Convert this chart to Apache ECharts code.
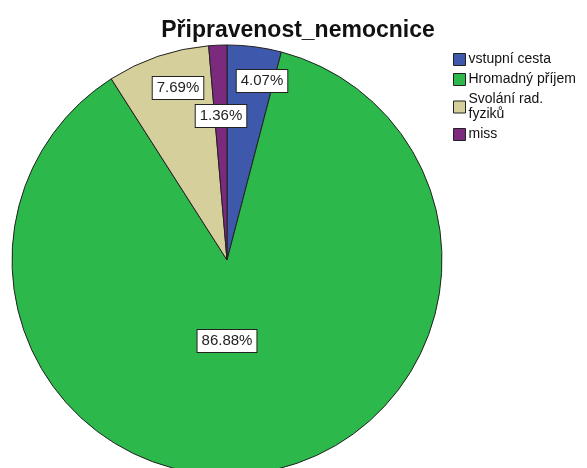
<!DOCTYPE html>
<html lang="cs">
<head>
    <meta charset="utf-8"/>
    <script src="https://cdn.jsdelivr.net/npm/echarts@6/dist/echarts.min.js"></script>
    <style>
        html, body { margin: 0; padding: 0; background: #fff; }
        #main { width: 587px; height: 468px; }
    </style>
</head>
<body>
<div id="main"></div>
<script>
    // data
    var categories = ['vstupní cesta', 'Hromadný příjem', 'Svolání rad. fyziků', 'miss'];
    var percents = [4.07, 86.88, 7.69, 1.36];
    var colors = ['#3e58ac', '#2db84b', '#d5cf9c', '#7b2a7e'];
    // label box centres (SPSS puts them by hand)
    var labelPos = [[262, 81], [227, 341], [178, 88], [221, 116]];

    var chart = echarts.init(document.getElementById('main'));
    var pieData = categories.map(function (c, i) {
        return { name: c, value: percents[i], itemStyle: { color: colors[i] } };
    });

    var option = {
        animation: false,
        title: {
            text: 'Připravenost_nemocnice',
            left: 293,
            top: 14,
            textAlign: 'center',
            textStyle: {
                fontFamily: 'Liberation Sans, Arial, sans-serif',
                fontSize: 23,
                fontWeight: 'bold',
                color: '#111'
            }
        },
        legend: {
            orient: 'vertical',
            left: 448,
            top: 47,
            itemWidth: 12,
            itemHeight: 12,
            itemGap: 5,
            icon: 'rect',
            itemStyle: { borderColor: '#222', borderWidth: 1 },
            formatter: function (name) {
                return name === 'Svolání rad. fyziků' ? 'Svolání rad.\nfyziků' : name;
            },
            textStyle: {
                fontFamily: 'Liberation Sans, Arial, sans-serif',
                fontSize: 14,
                lineHeight: 15,
                color: '#111',
                padding: [0, 0, 0, -2]
            },
            data: categories
        },
        series: [
            {
                type: 'pie',
                center: [227, 260],
                radius: 215,
                startAngle: 90,
                clockwise: true,
                data: pieData,
                itemStyle: { borderColor: '#222', borderWidth: 1 },
                emphasis: { disabled: true },
                labelLine: { show: false },
                label: {
                    show: true,
                    position: 'inside',
                    formatter: function (p) { return p.value.toFixed(2) + '%'; },
                    fontFamily: 'Liberation Sans, Arial, sans-serif',
                    fontSize: 15,
                    lineHeight: 16,
                    color: '#222',
                    backgroundColor: '#fff',
                    borderColor: '#222',
                    borderWidth: 1,
                    padding: [3, 4]
                },
                labelLayout: function (params) {
                    var p = labelPos[params.dataIndex];
                    return { x: p[0], y: p[1], align: 'center', verticalAlign: 'middle' };
                }
            }
        ]
    };
    chart.setOption(option);
</script>
</body>
</html>
